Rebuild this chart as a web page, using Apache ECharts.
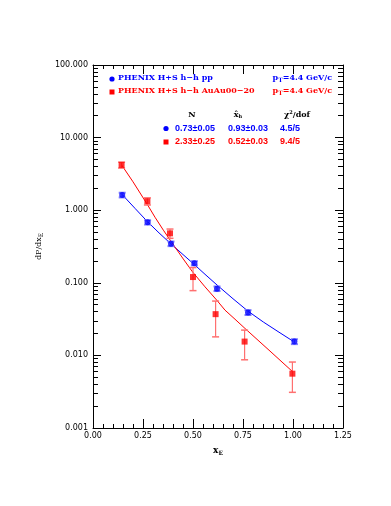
<!DOCTYPE html>
<html><head><meta charset="utf-8">
<script src="https://cdn.jsdelivr.net/npm/echarts@6/dist/echarts.min.js"></script>
<style>html,body{margin:0;padding:0;background:#fff}#c{width:391px;height:506px}</style>
</head><body><div id="c"></div>
<script>
// ---- data ----
var ppX = [0.146, 0.273, 0.390, 0.507, 0.620, 0.775, 1.007];
var ppY = [1.62, 0.68, 0.345, 0.186, 0.083, 0.039, 0.0155];
var ppErr = [0.12, 0.045, 0.025, 0.012, 0.006, 0.003, 0.0012];

var auX = [0.143, 0.272, 0.385, 0.500, 0.613, 0.758, 0.997];
var auY = [4.2, 1.33, 0.48, 0.120, 0.037, 0.0155, 0.0056];
var auErr = [0.4, 0.15, 0.07, 0.042, 0.019, 0.0068, 0.0025];

var ppFitX = [0.146, 0.210, 0.273, 0.330, 0.390, 0.450, 0.507, 0.560, 0.620, 0.700, 0.775, 0.852, 0.925, 1.000];
var ppFitY = [1.64, 1.06, 0.692, 0.487, 0.343, 0.245, 0.178, 0.131, 0.0933, 0.0603, 0.0407, 0.0288, 0.0213, 0.0157];

var auFitX = [0.143, 0.200, 0.270, 0.310, 0.352, 0.410, 0.455, 0.498, 0.560, 0.618, 0.660, 0.710, 0.760, 0.880, 1.000];
var auFitY = [4.2, 2.46, 1.22, 0.80, 0.53, 0.31, 0.206, 0.141, 0.088, 0.058, 0.042, 0.0315, 0.0235, 0.0118, 0.0059];

function pairs(xs, ys) { return xs.map(function (x, i) { return [x, ys[i]]; }); }
function errs(xs, ys, es) { return xs.map(function (x, i) { return [x, ys[i] - es[i], ys[i] + es[i]]; }); }

function errRender(color, capW, capLw) {
  return function (params, api) {
    var lo = api.coord([api.value(0), api.value(1)]);
    var hi = api.coord([api.value(0), api.value(2)]);
    var st = { stroke: color, lineWidth: 1.2 };
    var cs = { stroke: color, lineWidth: capLw };
    return { type: 'group', children: [
      { type: 'line', shape: { x1: lo[0], y1: lo[1], x2: hi[0], y2: hi[1] }, style: st },
      { type: 'line', shape: { x1: lo[0] - capW, y1: lo[1], x2: lo[0] + capW, y2: lo[1] }, style: cs },
      { type: 'line', shape: { x1: hi[0] - capW, y1: hi[1], x2: hi[0] + capW, y2: hi[1] }, style: cs }
    ]};
  };
}

var X_MIN = 0, X_MAX = 1.25;
var tickFont = { fontFamily: 'DejaVu Sans', fontSize: 8, color: '#000' };
var serif = 'DejaVu Serif';

var chart = echarts.init(document.getElementById('c'), null, { renderer: 'canvas' });
var xCommon = {
  type: 'value', min: X_MIN, max: X_MAX, interval: 0.25,
  axisLine: { show: true, onZero: false, lineStyle: { color: '#000', width: 1 } },
  axisTick: { show: true, inside: true, length: 9, lineStyle: { color: '#000' } },
  minorTick: { show: true, splitNumber: 5, length: 4, lineStyle: { color: '#000' } },
  splitLine: { show: false }
};
var yCommon = {
  type: 'log', logBase: 10, min: 0.001, max: 100,
  axisLine: { show: true, onZero: false, lineStyle: { color: '#000', width: 1 } },
  axisTick: { show: true, inside: true, length: 8, lineStyle: { color: '#000' } },
  minorTick: { show: true, splitNumber: 9, length: 5, lineStyle: { color: '#000' } },
  splitLine: { show: false }
};

chart.setOption({
  animation: false,
  backgroundColor: '#fff',
  grid: { left: 93, right: 48, top: 65, bottom: 78 },
  xAxis: [
    Object.assign({}, xCommon, {
      position: 'bottom',
      axisLabel: Object.assign({ margin: 4, formatter: function (v) { return v.toFixed(2); } }, tickFont),
      name: 'x{s|E}', nameLocation: 'middle', nameGap: 17,
      nameTextStyle: { fontFamily: serif, fontSize: 9, fontWeight: 'bold', color: '#000',
        rich: { s: { fontFamily: serif, fontSize: 6, fontWeight: 'bold', verticalAlign: 'bottom', padding: [5, 0, 0, 0] } } }
    }),
    Object.assign({}, xCommon, { position: 'top', axisLabel: { show: false } })
  ],
  yAxis: [
    Object.assign({}, yCommon, {
      position: 'left',
      axisLabel: Object.assign({ margin: 5, formatter: function (v) { return (+v).toFixed(3); } }, tickFont),
      name: 'dP/dx{s|E}', nameLocation: 'middle', nameGap: 48, nameRotate: 90,
      nameTextStyle: { fontFamily: serif, fontSize: 8, color: '#000',
        rich: { s: { fontFamily: serif, fontSize: 6, verticalAlign: 'bottom', padding: [5, 0, 0, 0] } } }
    }),
    Object.assign({}, yCommon, { position: 'right', axisLabel: { show: false } })
  ],
  series: [
    { type: 'line', name: 'pp fit', data: pairs(ppFitX, ppFitY), showSymbol: false,
      lineStyle: { color: '#0000ff', width: 1 }, z: 2 },
    { type: 'line', name: 'AuAu fit', data: pairs(auFitX, auFitY), showSymbol: false,
      lineStyle: { color: '#ff0000', width: 1 }, z: 2 },
    { type: 'custom', name: 'pp err', renderItem: errRender('#7a7aff', 3.5, 2), data: errs(ppX, ppY, ppErr), z: 3 },
    { type: 'custom', name: 'AuAu err', renderItem: errRender('#ff7070', 3.5, 1.5), data: errs(auX, auY, auErr), z: 3 },
    { type: 'scatter', name: 'pp', data: pairs(ppX, ppY), symbol: 'circle', symbolSize: 6,
      itemStyle: { color: '#0000ff' }, z: 4 },
    { type: 'scatter', name: 'AuAu', data: pairs(auX, auY), symbol: 'rect', symbolSize: 6,
      itemStyle: { color: '#ff0000' }, z: 4 }
  ],
  graphic: [
    { type: 'circle', shape: { cx: 112, cy: 79, r: 2.6 }, style: { fill: '#0000ff' } },
    { type: 'text', left: 118, top: 74, style: { text: 'PHENIX H+S h\u2212h pp', font: 'bold 8px "DejaVu Serif"', fill: '#0000ff' } },
    { type: 'rect', shape: { x: 109.5, y: 89.5, width: 5, height: 5 }, style: { fill: '#ff0000' } },
    { type: 'text', left: 118, top: 87, style: { text: 'PHENIX H+S h\u2212h AuAu00\u221220', font: 'bold 8px "DejaVu Serif"', fill: '#ff0000' } },
    { type: 'text', right: 59, top: 74, style: { text: 'p{s|T}=4.4 GeV/c', font: 'bold 8px "DejaVu Serif"', fill: '#0000ff',
      rich: { s: { font: 'bold 6px "DejaVu Serif"', fill: '#0000ff', padding: [4, 0, 0, 0] } } } },
    { type: 'text', right: 59, top: 87, style: { text: 'p{s|T}=4.4 GeV/c', font: 'bold 8px "DejaVu Serif"', fill: '#ff0000',
      rich: { s: { font: 'bold 6px "DejaVu Serif"', fill: '#ff0000', padding: [4, 0, 0, 0] } } } },
    { type: 'text', x: 192, y: 115, style: { text: 'N', font: 'bold 8px "DejaVu Serif"', fill: '#000', align: 'center', verticalAlign: 'middle' } },
    { type: 'text', x: 238, y: 115, style: { text: 'x\u0302{s|h}', font: 'bold 8px "DejaVu Serif"', fill: '#000', align: 'center', verticalAlign: 'middle',
      rich: { s: { font: 'bold 5px "DejaVu Serif"', fill: '#000', padding: [4, 0, 0, 0] } } } },
    { type: 'text', x: 297, y: 115, style: { text: '\u03c7{p|2}/dof', font: 'bold 8px "DejaVu Serif"', fill: '#000', align: 'center', verticalAlign: 'middle',
      rich: { p: { font: 'bold 5px "DejaVu Serif"', fill: '#000', padding: [0, 0, 4, 0] } } } },
    { type: 'circle', shape: { cx: 166, cy: 128.5, r: 2.6 }, style: { fill: '#0000ff' } },
    { type: 'text', x: 195, y: 128.5, style: { text: '0.73\u00b10.05', font: 'bold 9px "Liberation Sans"', fill: '#0000ff', align: 'center', verticalAlign: 'middle' } },
    { type: 'text', x: 248, y: 128.5, style: { text: '0.93\u00b10.03', font: 'bold 9px "Liberation Sans"', fill: '#0000ff', align: 'center', verticalAlign: 'middle' } },
    { type: 'text', x: 290, y: 128.5, style: { text: '4.5/5', font: 'bold 9px "Liberation Sans"', fill: '#0000ff', align: 'center', verticalAlign: 'middle' } },
    { type: 'rect', shape: { x: 163.5, y: 139.5, width: 5, height: 5 }, style: { fill: '#ff0000' } },
    { type: 'text', x: 195, y: 142, style: { text: '2.33\u00b10.25', font: 'bold 9px "Liberation Sans"', fill: '#ff0000', align: 'center', verticalAlign: 'middle' } },
    { type: 'text', x: 248, y: 142, style: { text: '0.52\u00b10.03', font: 'bold 9px "Liberation Sans"', fill: '#ff0000', align: 'center', verticalAlign: 'middle' } },
    { type: 'text', x: 290, y: 142, style: { text: '9.4/5', font: 'bold 9px "Liberation Sans"', fill: '#ff0000', align: 'center', verticalAlign: 'middle' } }
  ]
});
</script></body></html>
